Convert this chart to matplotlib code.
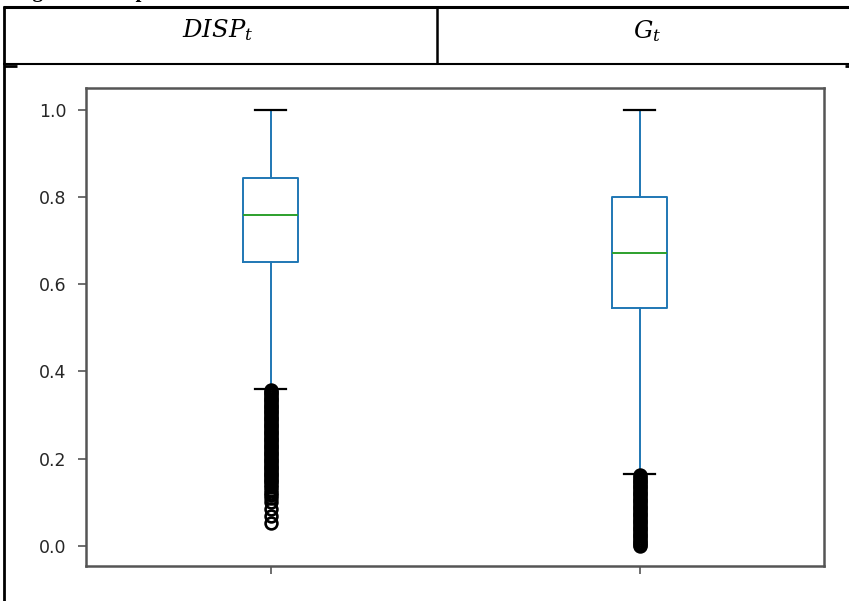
import matplotlib.pyplot as plt

plt.rcParams['mathtext.fontset'] = 'dejavuserif'

# column headers of the table around the chart
headers = ['$DISP_t$', '$G_t$']

# box statistics (DISP_t, G_t)
q1 = [0.651, 0.546]
medians = [0.759, 0.672]
q3 = [0.844, 0.800]
whisker_low = [0.360, 0.165]
whisker_high = [1.0, 1.0]

# outliers below the lower whisker
disp_fliers = [0.358, 0.354, 0.350, 0.346, 0.342, 0.338, 0.334, 0.330, 0.326, 0.322,
               0.318, 0.314, 0.310, 0.306, 0.302, 0.298, 0.294, 0.290, 0.286, 0.282,
               0.278, 0.274, 0.270, 0.266, 0.262, 0.258, 0.254, 0.250, 0.246, 0.242,
               0.238, 0.234, 0.230, 0.226, 0.222, 0.218, 0.214, 0.210, 0.206, 0.202,
               0.198, 0.194, 0.190, 0.186, 0.182, 0.178, 0.174, 0.170, 0.166, 0.162,
               0.158, 0.154, 0.150, 0.146, 0.140, 0.134, 0.128, 0.122, 0.116, 0.110,
               0.100, 0.084, 0.069, 0.052]
g_fliers = [0.162, 0.158, 0.154, 0.150, 0.146, 0.142, 0.138, 0.134, 0.130, 0.126,
            0.122, 0.118, 0.114, 0.110, 0.106, 0.102, 0.098, 0.094, 0.090, 0.086,
            0.082, 0.078, 0.074, 0.070, 0.066, 0.062, 0.058, 0.054, 0.050, 0.046,
            0.042, 0.038, 0.034, 0.030, 0.026, 0.022, 0.018, 0.014, 0.010, 0.006,
            0.002, 0.000]

stats = []
for i, fl in enumerate([disp_fliers, g_fliers]):
    stats.append({'med': medians[i], 'q1': q1[i], 'q3': q3[i],
                  'whislo': whisker_low[i], 'whishi': whisker_high[i], 'fliers': fl})

fig = plt.figure(figsize=(8.49, 6.01), dpi=100)

# page layer in pixel coordinates for the document table
page = fig.add_axes([0, 0, 1, 1])
page.set_xlim(0, 849)
page.set_ylim(601, 0)
page.axis('off')

page.plot([3, 849], [7, 7], color='black', lw=2.2, solid_capstyle='butt')
page.plot([4.5, 4.5], [6, 601], color='black', lw=2.0, solid_capstyle='butt')
page.plot([437, 437], [7, 64], color='black', lw=1.8, solid_capstyle='butt')
page.plot([3, 849], [64, 64], color='black', lw=1.5, solid_capstyle='butt')
page.plot([4, 17], [65.5, 65.5], color='black', lw=2.0, solid_capstyle='butt')
page.plot([845, 849], [66, 66], color='black', lw=2.0, solid_capstyle='butt')

page.text(218, 37, headers[0], fontsize=17.5, ha='center', va='baseline')
page.text(647, 38, headers[1], fontsize=17.5, ha='center', va='baseline')

# caption line cut off by the top edge, only descenders show
page.text(14, -2.5, 'Figure 2: Boxplot of the variables', family='Liberation Serif',
          fontweight='bold', fontsize=15, ha='left', va='baseline')
page.text(608, -2.5, headers[0], fontsize=14, ha='right', va='baseline')
page.text(692, -2.5, headers[1], fontsize=14, ha='right', va='baseline')

ax = fig.add_axes([86 / 849, 1 - 566 / 601, (824 - 86) / 849, (566 - 88) / 601])
ax.bxp(stats, positions=[1, 2], widths=0.15, capwidths=0.085,
       boxprops=dict(color='#1f77b4', linewidth=1.4),
       whiskerprops=dict(color='#1f77b4', linewidth=1.4),
       capprops=dict(color='black', linewidth=1.6),
       medianprops=dict(color='#2ca02c', linewidth=1.4),
       flierprops=dict(marker='o', markerfacecolor='none', markeredgecolor='black',
                       markersize=8.5, markeredgewidth=1.9))
ax.set_xlim(0.5, 2.5)
ax.set_ylim(-0.046, 1.05)
ax.set_xticks([1, 2])
ax.set_xticklabels(['', ''])
ax.set_yticks([0.0, 0.2, 0.4, 0.6, 0.8, 1.0])
ax.set_yticklabels(['0.0', '0.2', '0.4', '0.6', '0.8', '1.0'])
for s in ax.spines.values():
    s.set_color('#555555')
    s.set_linewidth(1.8)
ax.tick_params(length=6, width=1.2, color='#555555', labelcolor='#262626',
               labelsize=12.5, pad=8)

fig.savefig('out.png', dpi=100)
